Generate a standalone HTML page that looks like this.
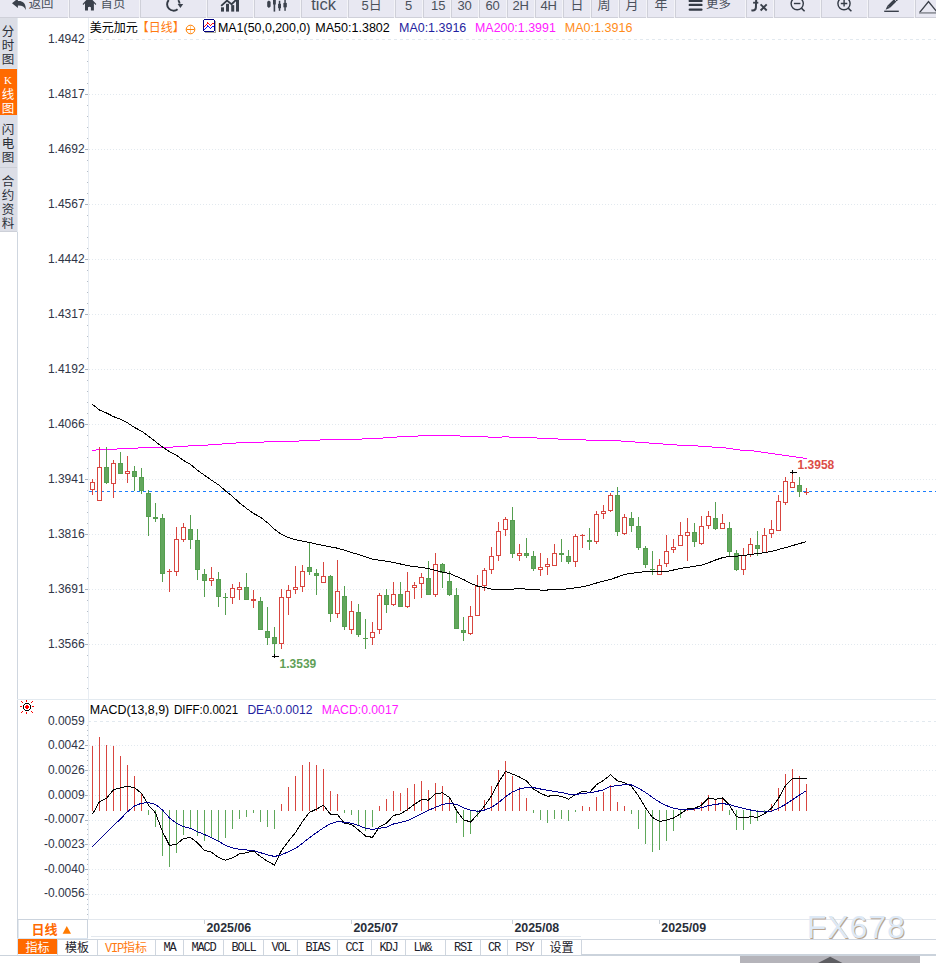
<!DOCTYPE html>
<html><head><meta charset="utf-8"><title>美元加元 日线</title>
<style>
html,body{margin:0;padding:0;background:#fff;}
body{width:936px;height:963px;overflow:hidden;position:relative;}
svg{display:block;position:absolute;left:0;top:0;}
.s{font-family:"Liberation Sans","Noto Sans CJK SC",sans-serif;}
.cj{font-family:"Liberation Sans","Noto Sans CJK SC",sans-serif;}
.mono{font-family:"Liberation Mono","Noto Sans CJK SC",monospace;}
</style></head>
<body>
<svg width="936" height="963" viewBox="0 0 936 963">
<!-- toolbar -->
<rect x="0" y="0" width="936" height="18" fill="#f4f4f8"/>
<rect x="-1" y="0" width="69" height="18" fill="#cfd0d9"/>
<rect x="0" y="0" width="68" height="17" fill="#e8e8f2"/>
<rect x="69" y="0" width="70" height="18" fill="#cfd0d9"/>
<rect x="70" y="0" width="69" height="17" fill="#e8e8f2"/>
<rect x="140" y="0" width="66" height="18" fill="#cfd0d9"/>
<rect x="141" y="0" width="65" height="17" fill="#e8e8f2"/>
<rect x="207" y="0" width="46" height="18" fill="#cfd0d9"/>
<rect x="208" y="0" width="45" height="17" fill="#e8e8f2"/>
<rect x="254" y="0" width="46" height="18" fill="#cfd0d9"/>
<rect x="255" y="0" width="45" height="17" fill="#e8e8f2"/>
<rect x="301" y="0" width="46" height="18" fill="#cfd0d9"/>
<rect x="302" y="0" width="45" height="17" fill="#e8e8f2"/>
<rect x="348" y="0" width="46" height="18" fill="#cfd0d9"/>
<rect x="349" y="0" width="45" height="17" fill="#e8e8f2"/>
<rect x="395" y="0" width="27" height="18" fill="#cfd0d9"/>
<rect x="396" y="0" width="26" height="17" fill="#e8e8f2"/>
<rect x="423" y="0" width="27" height="18" fill="#cfd0d9"/>
<rect x="424" y="0" width="26" height="17" fill="#e8e8f2"/>
<rect x="451" y="0" width="27" height="18" fill="#cfd0d9"/>
<rect x="452" y="0" width="26" height="17" fill="#e8e8f2"/>
<rect x="479" y="0" width="27" height="18" fill="#cfd0d9"/>
<rect x="480" y="0" width="26" height="17" fill="#e8e8f2"/>
<rect x="507" y="0" width="27" height="18" fill="#cfd0d9"/>
<rect x="508" y="0" width="26" height="17" fill="#e8e8f2"/>
<rect x="535" y="0" width="27" height="18" fill="#cfd0d9"/>
<rect x="536" y="0" width="26" height="17" fill="#e8e8f2"/>
<rect x="563" y="0" width="27" height="18" fill="#cfd0d9"/>
<rect x="564" y="0" width="26" height="17" fill="#e8e8f2"/>
<rect x="591" y="0" width="27" height="18" fill="#cfd0d9"/>
<rect x="592" y="0" width="26" height="17" fill="#e8e8f2"/>
<rect x="619" y="0" width="27" height="18" fill="#cfd0d9"/>
<rect x="620" y="0" width="26" height="17" fill="#e8e8f2"/>
<rect x="647" y="0" width="27" height="18" fill="#cfd0d9"/>
<rect x="648" y="0" width="26" height="17" fill="#e8e8f2"/>
<rect x="675" y="0" width="70" height="18" fill="#cfd0d9"/>
<rect x="676" y="0" width="69" height="17" fill="#e8e8f2"/>
<rect x="746" y="0" width="27" height="18" fill="#cfd0d9"/>
<rect x="747" y="0" width="26" height="17" fill="#e8e8f2"/>
<rect x="774" y="0" width="46" height="18" fill="#cfd0d9"/>
<rect x="775" y="0" width="45" height="17" fill="#e8e8f2"/>
<rect x="821" y="0" width="46" height="18" fill="#cfd0d9"/>
<rect x="822" y="0" width="45" height="17" fill="#e8e8f2"/>
<rect x="868" y="0" width="46" height="18" fill="#cfd0d9"/>
<rect x="869" y="0" width="45" height="17" fill="#e8e8f2"/>
<rect x="915" y="0" width="26" height="18" fill="#cfd0d9"/>
<rect x="916" y="0" width="25" height="17" fill="#e8e8f2"/>
<g fill="#3a404b" class="cj" font-size="13">
  <!-- back arrow -->
  <path d="M12 3.3 L17.9 -1.6 L17.9 1.0 C22 0.5 26.3 2.8 25.7 10 C24.6 6.6 22 5.3 17.9 5.5 L17.9 7.9 Z"/>
  <text x="28.7" y="8.4" font-size="12.4" fill="#4a505b">返回</text>
  <!-- house -->
  <path d="M89.4 -3.2 L96.3 3.9 L95.6 4.9 L93.9 3.3 L93.9 10.6 L90.9 10.6 L90.9 7.3 Q89.45 6.3 88 7.3 L88 10.6 L85 10.6 L85 3.3 L83.3 4.9 L82.6 3.9 Z"/>
  <text x="100.6" y="8.4" font-size="12.4" fill="#4a505b">首页</text>
  <!-- refresh -->
  <path d="M168.75 0 A6.4 6.4 0 0 0 177.6 9.2" fill="none" stroke="#333a45" stroke-width="1.9"/>
  <path d="M178.2 0.2 A6.4 6.4 0 0 1 179.6 3.6" fill="none" stroke="#333a45" stroke-width="1.9"/>
  <path d="M177.6 4 L183.2 4 L180.4 7.9 Z"/>
  <!-- bar chart icon -->
  <rect x="221" y="7.3" width="3" height="4.3"/>
  <rect x="226" y="3.8" width="3" height="7.8"/>
  <rect x="231.2" y="5.1" width="3" height="6.5"/>
  <rect x="236" y="-1" width="3" height="12.6"/>
  <path d="M221.2 5.8 L227 0.6 L231.6 4.2 L237.5 -1.5" fill="none" stroke="#333a45" stroke-width="1.8"/>
  <!-- candle icon -->
  <path d="M268.9 0.6 L270.6 1.8 L270.6 6.6 L268.9 7.9 L267.2 6.6 L267.2 1.8 Z"/>
  <rect x="273.6" y="-1" width="1.6" height="12.6"/>
  <rect x="273" y="-1" width="2.8" height="5.5"/>
  <rect x="278.8" y="0.8" width="1.5" height="10"/>
  <rect x="278.1" y="3.8" width="2.9" height="4.4"/>
  <rect x="284.3" y="-1" width="1.5" height="11.8"/>
  <rect x="283.4" y="2.9" width="3.4" height="4.4"/>
  <text x="311.2" y="9.6" font-size="16.5" style="font-family:'Liberation Sans',sans-serif" fill="#4a505b">tick</text>
  <text x="361.5" y="9.6" fill="#4a505b">5<tspan dy="-1">日</tspan></text>
  <text x="405" y="9.6" fill="#4a505b">5</text>
  <text x="431" y="9.6" fill="#4a505b">15</text>
  <text x="457.4" y="9.6" fill="#4a505b">30</text>
  <text x="485.4" y="9.6" fill="#4a505b">60</text>
  <text x="512.4" y="9.6" fill="#4a505b">2H</text>
  <text x="540.4" y="9.6" fill="#4a505b">4H</text>
  <text x="570.5" y="8.6" fill="#4a505b">日</text>
  <text x="597.5" y="8.6" fill="#4a505b">周</text>
  <text x="625.5" y="8.6" fill="#4a505b">月</text>
  <text x="654.5" y="8.6" fill="#4a505b">年</text>
  <!-- hamburger -->
  <path d="M689.8 0.9 H701.4 M689.8 4.9 H701.4 M689.8 9.6 H701.4" stroke="#333a45" stroke-width="2.4" stroke-linecap="round"/>
  <text x="706" y="8.4" font-size="12.4" fill="#4a505b">更多</text>
  <!-- fx -->
  <path d="M756.2 -1 L755.9 7.6 Q755.6 10.6 752.6 10.5 L751.4 10.3" fill="none" stroke="#3a404b" stroke-width="2"/>
  <path d="M753.1 2.7 H758.3" stroke="#3a404b" stroke-width="1.8"/>
  <path d="M760.6 4.3 L766.7 10.5 M766.7 4.3 L760.6 10.5" stroke="#3a404b" stroke-width="1.9"/>
  <!-- zoom out -->
  <circle cx="797.2" cy="3.6" r="6.1" fill="none" stroke="#333a45" stroke-width="1.4"/>
  <path d="M801.4 8.1 L804.6 11.3" stroke="#333a45" stroke-width="1.5"/>
  <path d="M793.9 3.5 H800.4" stroke="#333a45" stroke-width="1.4"/>
  <!-- zoom in -->
  <circle cx="844" cy="3.6" r="6.1" fill="none" stroke="#333a45" stroke-width="1.4"/>
  <path d="M848.2 8.1 L851.4 11.3" stroke="#333a45" stroke-width="1.5"/>
  <path d="M840.8 3.5 H847.3 M844.1 0 V6.6" stroke="#333a45" stroke-width="1.4"/>
  <!-- pencil -->
  <path d="M897.2 -1.6 L888.6 6.9" stroke="#3a404b" stroke-width="3.4" stroke-linecap="butt"/>
  <path d="M889.8 8.1 L887.4 5.7 L885.6 9.7 Z"/>
  <path d="M894.6 -0.4 L896.9 1.9" stroke="#e8e8f2" stroke-width="0.7"/>
  <path d="M884.2 11.3 H898.8" stroke="#3a404b" stroke-width="1.4"/>
  <!-- triangle -->
  <path d="M919.5 12.6 L928.5 1.5 L937.5 12.6" fill="none" stroke="#3a3f48" stroke-width="1.4"/>
  <path d="M919 12.9 H936" stroke="#8c8f97" stroke-width="1.6"/>
</g>

<!-- left sidebar -->
<rect x="0" y="18" width="17" height="214" fill="#dcdee6"/>
<rect x="17" y="18" width="1" height="214" fill="#e6ecf3"/>
<rect x="17" y="232" width="1" height="707" fill="#cfd6df"/>
<rect x="0" y="68" width="17" height="1" fill="#dbe5f1"/>
<rect x="0" y="69" width="17" height="46" fill="#ff6a00"/>
<rect x="0" y="167" width="17" height="1" fill="#cdd0d8"/>
<rect x="0" y="231" width="17" height="1" fill="#cdd0d8"/>
<g class="cj" font-size="12.5" fill="#2a2f38" text-anchor="middle" transform="translate(-0.6 0)">
  <text x="8.5" y="35.5">分</text>
  <text x="8.5" y="49.5">时</text>
  <text x="8.5" y="63.5">图</text>
  <text x="8.5" y="84" fill="#fff" font-size="11" style="font-family:'Liberation Serif',serif">K</text>
  <text x="8.5" y="99" fill="#fff">线</text>
  <text x="8.5" y="113" fill="#fff">图</text>
  <text x="8.5" y="133.5">闪</text>
  <text x="8.5" y="147.5">电</text>
  <text x="8.5" y="161.5">图</text>
  <text x="8.5" y="186">合</text>
  <text x="8.5" y="200">约</text>
  <text x="8.5" y="214">资</text>
  <text x="8.5" y="228">料</text>
</g>

<!-- chart -->
<rect x="88" y="18" width="1" height="901" fill="#e8edf3"/>
<line x1="88" y1="39.5" x2="936" y2="39.5" stroke="#e2e9ef" stroke-width="1" stroke-dasharray="3 3"/>
<line x1="89" y1="94.5" x2="936" y2="94.5" stroke="#e2e9ef" stroke-width="1" stroke-dasharray="1 2"/>
<rect x="85" y="94" width="3" height="1" fill="#a9b2bd"/>
<line x1="89" y1="149.5" x2="936" y2="149.5" stroke="#e2e9ef" stroke-width="1" stroke-dasharray="1 2"/>
<rect x="85" y="149" width="3" height="1" fill="#a9b2bd"/>
<line x1="89" y1="204.5" x2="936" y2="204.5" stroke="#e2e9ef" stroke-width="1" stroke-dasharray="1 2"/>
<rect x="85" y="204" width="3" height="1" fill="#a9b2bd"/>
<line x1="89" y1="259.5" x2="936" y2="259.5" stroke="#e2e9ef" stroke-width="1" stroke-dasharray="1 2"/>
<rect x="85" y="259" width="3" height="1" fill="#a9b2bd"/>
<line x1="89" y1="314.5" x2="936" y2="314.5" stroke="#e2e9ef" stroke-width="1" stroke-dasharray="1 2"/>
<rect x="85" y="314" width="3" height="1" fill="#a9b2bd"/>
<line x1="89" y1="369.5" x2="936" y2="369.5" stroke="#e2e9ef" stroke-width="1" stroke-dasharray="1 2"/>
<rect x="85" y="369" width="3" height="1" fill="#a9b2bd"/>
<line x1="89" y1="424.5" x2="936" y2="424.5" stroke="#e2e9ef" stroke-width="1" stroke-dasharray="1 2"/>
<rect x="85" y="424" width="3" height="1" fill="#a9b2bd"/>
<line x1="89" y1="479.5" x2="936" y2="479.5" stroke="#e2e9ef" stroke-width="1" stroke-dasharray="1 2"/>
<rect x="85" y="479" width="3" height="1" fill="#a9b2bd"/>
<line x1="89" y1="534.5" x2="936" y2="534.5" stroke="#e2e9ef" stroke-width="1" stroke-dasharray="1 2"/>
<rect x="85" y="534" width="3" height="1" fill="#a9b2bd"/>
<line x1="89" y1="589.5" x2="936" y2="589.5" stroke="#e2e9ef" stroke-width="1" stroke-dasharray="1 2"/>
<rect x="85" y="589" width="3" height="1" fill="#a9b2bd"/>
<line x1="89" y1="644.5" x2="936" y2="644.5" stroke="#e2e9ef" stroke-width="1" stroke-dasharray="1 2"/>
<rect x="85" y="644" width="3" height="1" fill="#a9b2bd"/>
<rect x="87" y="50" width="1" height="1" fill="#b5bdc7"/>
<rect x="87" y="61" width="1" height="1" fill="#b5bdc7"/>
<rect x="87" y="72" width="1" height="1" fill="#b5bdc7"/>
<rect x="87" y="83" width="1" height="1" fill="#b5bdc7"/>
<rect x="87" y="105" width="1" height="1" fill="#b5bdc7"/>
<rect x="87" y="116" width="1" height="1" fill="#b5bdc7"/>
<rect x="87" y="127" width="1" height="1" fill="#b5bdc7"/>
<rect x="87" y="138" width="1" height="1" fill="#b5bdc7"/>
<rect x="87" y="160" width="1" height="1" fill="#b5bdc7"/>
<rect x="87" y="171" width="1" height="1" fill="#b5bdc7"/>
<rect x="87" y="182" width="1" height="1" fill="#b5bdc7"/>
<rect x="87" y="193" width="1" height="1" fill="#b5bdc7"/>
<rect x="87" y="215" width="1" height="1" fill="#b5bdc7"/>
<rect x="87" y="226" width="1" height="1" fill="#b5bdc7"/>
<rect x="87" y="237" width="1" height="1" fill="#b5bdc7"/>
<rect x="87" y="248" width="1" height="1" fill="#b5bdc7"/>
<rect x="87" y="270" width="1" height="1" fill="#b5bdc7"/>
<rect x="87" y="281" width="1" height="1" fill="#b5bdc7"/>
<rect x="87" y="292" width="1" height="1" fill="#b5bdc7"/>
<rect x="87" y="303" width="1" height="1" fill="#b5bdc7"/>
<rect x="87" y="325" width="1" height="1" fill="#b5bdc7"/>
<rect x="87" y="336" width="1" height="1" fill="#b5bdc7"/>
<rect x="87" y="347" width="1" height="1" fill="#b5bdc7"/>
<rect x="87" y="358" width="1" height="1" fill="#b5bdc7"/>
<rect x="87" y="380" width="1" height="1" fill="#b5bdc7"/>
<rect x="87" y="391" width="1" height="1" fill="#b5bdc7"/>
<rect x="87" y="402" width="1" height="1" fill="#b5bdc7"/>
<rect x="87" y="413" width="1" height="1" fill="#b5bdc7"/>
<rect x="87" y="435" width="1" height="1" fill="#b5bdc7"/>
<rect x="87" y="446" width="1" height="1" fill="#b5bdc7"/>
<rect x="87" y="457" width="1" height="1" fill="#b5bdc7"/>
<rect x="87" y="468" width="1" height="1" fill="#b5bdc7"/>
<rect x="87" y="490" width="1" height="1" fill="#b5bdc7"/>
<rect x="87" y="501" width="1" height="1" fill="#b5bdc7"/>
<rect x="87" y="512" width="1" height="1" fill="#b5bdc7"/>
<rect x="87" y="523" width="1" height="1" fill="#b5bdc7"/>
<rect x="87" y="545" width="1" height="1" fill="#b5bdc7"/>
<rect x="87" y="556" width="1" height="1" fill="#b5bdc7"/>
<rect x="87" y="567" width="1" height="1" fill="#b5bdc7"/>
<rect x="87" y="578" width="1" height="1" fill="#b5bdc7"/>
<rect x="87" y="600" width="1" height="1" fill="#b5bdc7"/>
<rect x="87" y="611" width="1" height="1" fill="#b5bdc7"/>
<rect x="87" y="622" width="1" height="1" fill="#b5bdc7"/>
<rect x="87" y="633" width="1" height="1" fill="#b5bdc7"/>
<rect x="87" y="655" width="1" height="1" fill="#b5bdc7"/>
<rect x="87" y="666" width="1" height="1" fill="#b5bdc7"/>
<rect x="87" y="677" width="1" height="1" fill="#b5bdc7"/>
<rect x="87" y="688" width="1" height="1" fill="#b5bdc7"/>
<line x1="88" y1="721.5" x2="936" y2="721.5" stroke="#e2e9ef" stroke-width="1" stroke-dasharray="3 3"/>
<line x1="89" y1="745.5" x2="936" y2="745.5" stroke="#e2e9ef" stroke-width="1" stroke-dasharray="1 2"/>
<rect x="85" y="745" width="3" height="1" fill="#a9b2bd"/>
<line x1="89" y1="770.5" x2="936" y2="770.5" stroke="#e2e9ef" stroke-width="1" stroke-dasharray="1 2"/>
<rect x="85" y="770" width="3" height="1" fill="#a9b2bd"/>
<line x1="89" y1="795.5" x2="936" y2="795.5" stroke="#e2e9ef" stroke-width="1" stroke-dasharray="1 2"/>
<rect x="85" y="795" width="3" height="1" fill="#a9b2bd"/>
<line x1="89" y1="820.5" x2="936" y2="820.5" stroke="#e2e9ef" stroke-width="1" stroke-dasharray="1 2"/>
<rect x="85" y="820" width="3" height="1" fill="#a9b2bd"/>
<line x1="89" y1="844.5" x2="936" y2="844.5" stroke="#e2e9ef" stroke-width="1" stroke-dasharray="1 2"/>
<rect x="85" y="844" width="3" height="1" fill="#a9b2bd"/>
<line x1="89" y1="869.5" x2="936" y2="869.5" stroke="#e2e9ef" stroke-width="1" stroke-dasharray="1 2"/>
<rect x="85" y="869" width="3" height="1" fill="#a9b2bd"/>
<line x1="89" y1="894.5" x2="936" y2="894.5" stroke="#e2e9ef" stroke-width="1" stroke-dasharray="1 2"/>
<rect x="85" y="894" width="3" height="1" fill="#a9b2bd"/>
<rect x="87" y="725" width="1" height="1" fill="#b5bdc7"/>
<rect x="87" y="730" width="1" height="1" fill="#b5bdc7"/>
<rect x="87" y="735" width="1" height="1" fill="#b5bdc7"/>
<rect x="87" y="740" width="1" height="1" fill="#b5bdc7"/>
<rect x="87" y="750" width="1" height="1" fill="#b5bdc7"/>
<rect x="87" y="755" width="1" height="1" fill="#b5bdc7"/>
<rect x="87" y="760" width="1" height="1" fill="#b5bdc7"/>
<rect x="87" y="765" width="1" height="1" fill="#b5bdc7"/>
<rect x="87" y="775" width="1" height="1" fill="#b5bdc7"/>
<rect x="87" y="780" width="1" height="1" fill="#b5bdc7"/>
<rect x="87" y="785" width="1" height="1" fill="#b5bdc7"/>
<rect x="87" y="790" width="1" height="1" fill="#b5bdc7"/>
<rect x="87" y="800" width="1" height="1" fill="#b5bdc7"/>
<rect x="87" y="805" width="1" height="1" fill="#b5bdc7"/>
<rect x="87" y="810" width="1" height="1" fill="#b5bdc7"/>
<rect x="87" y="815" width="1" height="1" fill="#b5bdc7"/>
<rect x="87" y="824" width="1" height="1" fill="#b5bdc7"/>
<rect x="87" y="829" width="1" height="1" fill="#b5bdc7"/>
<rect x="87" y="834" width="1" height="1" fill="#b5bdc7"/>
<rect x="87" y="839" width="1" height="1" fill="#b5bdc7"/>
<rect x="87" y="849" width="1" height="1" fill="#b5bdc7"/>
<rect x="87" y="854" width="1" height="1" fill="#b5bdc7"/>
<rect x="87" y="859" width="1" height="1" fill="#b5bdc7"/>
<rect x="87" y="864" width="1" height="1" fill="#b5bdc7"/>
<rect x="87" y="874" width="1" height="1" fill="#b5bdc7"/>
<rect x="87" y="879" width="1" height="1" fill="#b5bdc7"/>
<rect x="87" y="884" width="1" height="1" fill="#b5bdc7"/>
<rect x="87" y="889" width="1" height="1" fill="#b5bdc7"/>
<rect x="87" y="899" width="1" height="1" fill="#b5bdc7"/>
<rect x="87" y="904" width="1" height="1" fill="#b5bdc7"/>
<rect x="87" y="909" width="1" height="1" fill="#b5bdc7"/>
<rect x="87" y="914" width="1" height="1" fill="#b5bdc7"/>
<rect x="92" y="450" width="4" height="1" fill="#ff00ff"/>
<rect x="96" y="449" width="21" height="1" fill="#ff00ff"/>
<rect x="117" y="448" width="21" height="1" fill="#ff00ff"/>
<rect x="138" y="447" width="35" height="1" fill="#ff00ff"/>
<rect x="173" y="446" width="15" height="1" fill="#ff00ff"/>
<rect x="188" y="445" width="20" height="1" fill="#ff00ff"/>
<rect x="208" y="444" width="14" height="1" fill="#ff00ff"/>
<rect x="222" y="443" width="14" height="1" fill="#ff00ff"/>
<rect x="236" y="442" width="28" height="1" fill="#ff00ff"/>
<rect x="264" y="441" width="35" height="1" fill="#ff00ff"/>
<rect x="299" y="440" width="21" height="1" fill="#ff00ff"/>
<rect x="320" y="439" width="42" height="1" fill="#ff00ff"/>
<rect x="362" y="438" width="21" height="1" fill="#ff00ff"/>
<rect x="383" y="437" width="14" height="1" fill="#ff00ff"/>
<rect x="397" y="436" width="21" height="1" fill="#ff00ff"/>
<rect x="418" y="435" width="42" height="1" fill="#ff00ff"/>
<rect x="460" y="436" width="28" height="1" fill="#ff00ff"/>
<rect x="488" y="437" width="14" height="1" fill="#ff00ff"/>
<rect x="502" y="436" width="7" height="1" fill="#ff00ff"/>
<rect x="509" y="437" width="28" height="1" fill="#ff00ff"/>
<rect x="537" y="438" width="21" height="1" fill="#ff00ff"/>
<rect x="558" y="439" width="28" height="1" fill="#ff00ff"/>
<rect x="586" y="440" width="35" height="1" fill="#ff00ff"/>
<rect x="621" y="441" width="14" height="1" fill="#ff00ff"/>
<rect x="635" y="442" width="14" height="1" fill="#ff00ff"/>
<rect x="649" y="443" width="14" height="1" fill="#ff00ff"/>
<rect x="663" y="444" width="14" height="1" fill="#ff00ff"/>
<rect x="677" y="445" width="21" height="1" fill="#ff00ff"/>
<rect x="698" y="446" width="14" height="1" fill="#ff00ff"/>
<rect x="712" y="447" width="14" height="1" fill="#ff00ff"/>
<rect x="726" y="448" width="7" height="1" fill="#ff00ff"/>
<rect x="733" y="449" width="7" height="1" fill="#ff00ff"/>
<rect x="740" y="450" width="14" height="1" fill="#ff00ff"/>
<rect x="754" y="451" width="7" height="1" fill="#ff00ff"/>
<rect x="761" y="452" width="7" height="1" fill="#ff00ff"/>
<rect x="768" y="453" width="7" height="1" fill="#ff00ff"/>
<rect x="775" y="454" width="7" height="1" fill="#ff00ff"/>
<rect x="782" y="455" width="7" height="1" fill="#ff00ff"/>
<rect x="789" y="456" width="7" height="1" fill="#ff00ff"/>
<rect x="796" y="457" width="7" height="1" fill="#ff00ff"/>
<rect x="803" y="458" width="4" height="1" fill="#ff00ff"/>
<line x1="89" y1="491.5" x2="936" y2="491.5" stroke="#1a7dfc" stroke-width="1" stroke-dasharray="3 3"/>
<rect x="92" y="479" width="1" height="3" fill="#d8453f"/>
<rect x="92" y="490" width="1" height="5" fill="#d8453f"/>
<rect x="90.5" y="482.5" width="4" height="7" fill="#fff" stroke="#d8453f" stroke-width="1"/>
<rect x="99" y="447" width="1" height="20" fill="#d8453f"/>
<rect x="97.5" y="467.5" width="4" height="33" fill="#fff" stroke="#d8453f" stroke-width="1"/>
<rect x="106" y="447" width="1" height="37" fill="#559e4f"/>
<rect x="104.5" y="467.5" width="4" height="15" fill="#62a75d" stroke="#559e4f" stroke-width="1"/>
<rect x="113" y="460" width="1" height="3" fill="#d8453f"/>
<rect x="113" y="484" width="1" height="14" fill="#d8453f"/>
<rect x="111.5" y="463.5" width="4" height="20" fill="#fff" stroke="#d8453f" stroke-width="1"/>
<rect x="120" y="452" width="1" height="22" fill="#559e4f"/>
<rect x="118.5" y="463.5" width="4" height="10" fill="#62a75d" stroke="#559e4f" stroke-width="1"/>
<rect x="127" y="456" width="1" height="15" fill="#d8453f"/>
<rect x="127" y="474" width="1" height="9" fill="#d8453f"/>
<rect x="125.5" y="471.5" width="4" height="2" fill="#fff" stroke="#d8453f" stroke-width="1"/>
<rect x="134" y="466" width="1" height="25" fill="#559e4f"/>
<rect x="132.5" y="471.5" width="4" height="5" fill="#62a75d" stroke="#559e4f" stroke-width="1"/>
<rect x="141" y="468" width="1" height="26" fill="#559e4f"/>
<rect x="139.5" y="477.5" width="4" height="13" fill="#62a75d" stroke="#559e4f" stroke-width="1"/>
<rect x="148" y="490" width="1" height="46" fill="#559e4f"/>
<rect x="146.5" y="493.5" width="4" height="23" fill="#62a75d" stroke="#559e4f" stroke-width="1"/>
<rect x="155" y="503" width="1" height="19" fill="#559e4f"/>
<rect x="153" y="517" width="5" height="2" fill="#559e4f"/>
<rect x="162" y="514" width="1" height="68" fill="#559e4f"/>
<rect x="160.5" y="518.5" width="4" height="55" fill="#62a75d" stroke="#559e4f" stroke-width="1"/>
<rect x="169" y="569" width="1" height="23" fill="#d8453f"/>
<rect x="167" y="571" width="5" height="1" fill="#d8453f"/>
<rect x="176" y="527" width="1" height="12" fill="#d8453f"/>
<rect x="176" y="572" width="1" height="4" fill="#d8453f"/>
<rect x="174.5" y="539.5" width="4" height="32" fill="#fff" stroke="#d8453f" stroke-width="1"/>
<rect x="183" y="523" width="1" height="4" fill="#d8453f"/>
<rect x="183" y="540" width="1" height="2" fill="#d8453f"/>
<rect x="181.5" y="527.5" width="4" height="12" fill="#fff" stroke="#d8453f" stroke-width="1"/>
<rect x="190" y="515" width="1" height="34" fill="#559e4f"/>
<rect x="188.5" y="529.5" width="4" height="10" fill="#62a75d" stroke="#559e4f" stroke-width="1"/>
<rect x="197" y="529" width="1" height="51" fill="#559e4f"/>
<rect x="195.5" y="540.5" width="4" height="29" fill="#62a75d" stroke="#559e4f" stroke-width="1"/>
<rect x="204" y="569" width="1" height="28" fill="#559e4f"/>
<rect x="202.5" y="574.5" width="4" height="6" fill="#62a75d" stroke="#559e4f" stroke-width="1"/>
<rect x="211" y="567" width="1" height="11" fill="#d8453f"/>
<rect x="211" y="581" width="1" height="5" fill="#d8453f"/>
<rect x="209.5" y="578.5" width="4" height="2" fill="#fff" stroke="#d8453f" stroke-width="1"/>
<rect x="218" y="572" width="1" height="35" fill="#559e4f"/>
<rect x="216.5" y="579.5" width="4" height="17" fill="#62a75d" stroke="#559e4f" stroke-width="1"/>
<rect x="225" y="593" width="1" height="22" fill="#559e4f"/>
<rect x="223" y="597" width="5" height="1" fill="#559e4f"/>
<rect x="232" y="584" width="1" height="4" fill="#d8453f"/>
<rect x="232" y="598" width="1" height="6" fill="#d8453f"/>
<rect x="230.5" y="588.5" width="4" height="9" fill="#fff" stroke="#d8453f" stroke-width="1"/>
<rect x="239" y="582" width="1" height="5" fill="#d8453f"/>
<rect x="239" y="590" width="1" height="10" fill="#d8453f"/>
<rect x="237.5" y="587.5" width="4" height="2" fill="#fff" stroke="#d8453f" stroke-width="1"/>
<rect x="246" y="573" width="1" height="27" fill="#559e4f"/>
<rect x="244.5" y="587.5" width="4" height="12" fill="#62a75d" stroke="#559e4f" stroke-width="1"/>
<rect x="253" y="590" width="1" height="18" fill="#d8453f"/>
<rect x="251" y="599" width="5" height="2" fill="#d8453f"/>
<rect x="260" y="597" width="1" height="33" fill="#559e4f"/>
<rect x="258.5" y="601.5" width="4" height="28" fill="#62a75d" stroke="#559e4f" stroke-width="1"/>
<rect x="267" y="607" width="1" height="38" fill="#559e4f"/>
<rect x="265.5" y="631.5" width="4" height="6" fill="#62a75d" stroke="#559e4f" stroke-width="1"/>
<rect x="274" y="627" width="1" height="30" fill="#559e4f"/>
<rect x="272.5" y="637.5" width="4" height="6" fill="#62a75d" stroke="#559e4f" stroke-width="1"/>
<rect x="281" y="589" width="1" height="8" fill="#d8453f"/>
<rect x="281" y="644" width="1" height="5" fill="#d8453f"/>
<rect x="279.5" y="597.5" width="4" height="46" fill="#fff" stroke="#d8453f" stroke-width="1"/>
<rect x="288" y="585" width="1" height="5" fill="#d8453f"/>
<rect x="288" y="598" width="1" height="17" fill="#d8453f"/>
<rect x="286.5" y="590.5" width="4" height="7" fill="#fff" stroke="#d8453f" stroke-width="1"/>
<rect x="295" y="566" width="1" height="21" fill="#d8453f"/>
<rect x="295" y="590" width="1" height="4" fill="#d8453f"/>
<rect x="293.5" y="587.5" width="4" height="2" fill="#fff" stroke="#d8453f" stroke-width="1"/>
<rect x="302" y="565" width="1" height="6" fill="#d8453f"/>
<rect x="302" y="587" width="1" height="5" fill="#d8453f"/>
<rect x="300.5" y="571.5" width="4" height="15" fill="#fff" stroke="#d8453f" stroke-width="1"/>
<rect x="309" y="542" width="1" height="33" fill="#559e4f"/>
<rect x="307.5" y="567.5" width="4" height="4" fill="#62a75d" stroke="#559e4f" stroke-width="1"/>
<rect x="316" y="569" width="1" height="26" fill="#559e4f"/>
<rect x="314.5" y="573.5" width="4" height="2" fill="#62a75d" stroke="#559e4f" stroke-width="1"/>
<rect x="323" y="562" width="1" height="14" fill="#d8453f"/>
<rect x="321.5" y="576.5" width="4" height="6" fill="#fff" stroke="#d8453f" stroke-width="1"/>
<rect x="330" y="575" width="1" height="47" fill="#559e4f"/>
<rect x="328.5" y="576.5" width="4" height="37" fill="#62a75d" stroke="#559e4f" stroke-width="1"/>
<rect x="337" y="560" width="1" height="31" fill="#d8453f"/>
<rect x="337" y="614" width="1" height="4" fill="#d8453f"/>
<rect x="335.5" y="591.5" width="4" height="22" fill="#fff" stroke="#d8453f" stroke-width="1"/>
<rect x="344" y="586" width="1" height="44" fill="#559e4f"/>
<rect x="342.5" y="596.5" width="4" height="30" fill="#62a75d" stroke="#559e4f" stroke-width="1"/>
<rect x="351" y="601" width="1" height="10" fill="#d8453f"/>
<rect x="351" y="630" width="1" height="4" fill="#d8453f"/>
<rect x="349.5" y="611.5" width="4" height="18" fill="#fff" stroke="#d8453f" stroke-width="1"/>
<rect x="358" y="604" width="1" height="33" fill="#559e4f"/>
<rect x="356.5" y="612.5" width="4" height="22" fill="#62a75d" stroke="#559e4f" stroke-width="1"/>
<rect x="365" y="619" width="1" height="30" fill="#559e4f"/>
<rect x="363" y="638" width="5" height="1" fill="#559e4f"/>
<rect x="372" y="622" width="1" height="10" fill="#d8453f"/>
<rect x="372" y="638" width="1" height="7" fill="#d8453f"/>
<rect x="370.5" y="632.5" width="4" height="5" fill="#fff" stroke="#d8453f" stroke-width="1"/>
<rect x="379" y="593" width="1" height="2" fill="#d8453f"/>
<rect x="379" y="630" width="1" height="4" fill="#d8453f"/>
<rect x="377.5" y="595.5" width="4" height="34" fill="#fff" stroke="#d8453f" stroke-width="1"/>
<rect x="386" y="589" width="1" height="24" fill="#559e4f"/>
<rect x="384.5" y="595.5" width="4" height="9" fill="#62a75d" stroke="#559e4f" stroke-width="1"/>
<rect x="393" y="582" width="1" height="12" fill="#d8453f"/>
<rect x="393" y="605" width="1" height="1" fill="#d8453f"/>
<rect x="391.5" y="594.5" width="4" height="10" fill="#fff" stroke="#d8453f" stroke-width="1"/>
<rect x="400" y="582" width="1" height="25" fill="#559e4f"/>
<rect x="398.5" y="594.5" width="4" height="12" fill="#62a75d" stroke="#559e4f" stroke-width="1"/>
<rect x="407" y="572" width="1" height="19" fill="#d8453f"/>
<rect x="407" y="607" width="1" height="1" fill="#d8453f"/>
<rect x="405.5" y="591.5" width="4" height="15" fill="#fff" stroke="#d8453f" stroke-width="1"/>
<rect x="414" y="582" width="1" height="3" fill="#d8453f"/>
<rect x="414" y="588" width="1" height="11" fill="#d8453f"/>
<rect x="412.5" y="585.5" width="4" height="2" fill="#fff" stroke="#d8453f" stroke-width="1"/>
<rect x="421" y="573" width="1" height="4" fill="#d8453f"/>
<rect x="421" y="584" width="1" height="14" fill="#d8453f"/>
<rect x="419.5" y="577.5" width="4" height="6" fill="#fff" stroke="#d8453f" stroke-width="1"/>
<rect x="428" y="561" width="1" height="34" fill="#559e4f"/>
<rect x="426.5" y="578.5" width="4" height="16" fill="#62a75d" stroke="#559e4f" stroke-width="1"/>
<rect x="435" y="553" width="1" height="11" fill="#d8453f"/>
<rect x="435" y="595" width="1" height="2" fill="#d8453f"/>
<rect x="433.5" y="564.5" width="4" height="30" fill="#fff" stroke="#d8453f" stroke-width="1"/>
<rect x="442" y="563" width="1" height="25" fill="#559e4f"/>
<rect x="440.5" y="564.5" width="4" height="8" fill="#62a75d" stroke="#559e4f" stroke-width="1"/>
<rect x="449" y="571" width="1" height="25" fill="#559e4f"/>
<rect x="447.5" y="581.5" width="4" height="13" fill="#62a75d" stroke="#559e4f" stroke-width="1"/>
<rect x="456" y="588" width="1" height="41" fill="#559e4f"/>
<rect x="454.5" y="595.5" width="4" height="33" fill="#62a75d" stroke="#559e4f" stroke-width="1"/>
<rect x="463" y="617" width="1" height="24" fill="#559e4f"/>
<rect x="461.5" y="630.5" width="4" height="2" fill="#62a75d" stroke="#559e4f" stroke-width="1"/>
<rect x="470" y="606" width="1" height="10" fill="#d8453f"/>
<rect x="470" y="634" width="1" height="1" fill="#d8453f"/>
<rect x="468.5" y="616.5" width="4" height="17" fill="#fff" stroke="#d8453f" stroke-width="1"/>
<rect x="477" y="575" width="1" height="11" fill="#d8453f"/>
<rect x="475.5" y="586.5" width="4" height="29" fill="#fff" stroke="#d8453f" stroke-width="1"/>
<rect x="484" y="568" width="1" height="2" fill="#d8453f"/>
<rect x="484" y="586" width="1" height="5" fill="#d8453f"/>
<rect x="482.5" y="570.5" width="4" height="15" fill="#fff" stroke="#d8453f" stroke-width="1"/>
<rect x="491" y="547" width="1" height="9" fill="#d8453f"/>
<rect x="491" y="570" width="1" height="4" fill="#d8453f"/>
<rect x="489.5" y="556.5" width="4" height="13" fill="#fff" stroke="#d8453f" stroke-width="1"/>
<rect x="498" y="522" width="1" height="9" fill="#d8453f"/>
<rect x="498" y="556" width="1" height="5" fill="#d8453f"/>
<rect x="496.5" y="531.5" width="4" height="24" fill="#fff" stroke="#d8453f" stroke-width="1"/>
<rect x="505" y="517" width="1" height="2" fill="#d8453f"/>
<rect x="505" y="530" width="1" height="6" fill="#d8453f"/>
<rect x="503.5" y="519.5" width="4" height="10" fill="#fff" stroke="#d8453f" stroke-width="1"/>
<rect x="512" y="507" width="1" height="51" fill="#559e4f"/>
<rect x="510.5" y="520.5" width="4" height="33" fill="#62a75d" stroke="#559e4f" stroke-width="1"/>
<rect x="519" y="544" width="1" height="9" fill="#d8453f"/>
<rect x="519" y="556" width="1" height="5" fill="#d8453f"/>
<rect x="517.5" y="553.5" width="4" height="2" fill="#fff" stroke="#d8453f" stroke-width="1"/>
<rect x="526" y="538" width="1" height="20" fill="#559e4f"/>
<rect x="524.5" y="553.5" width="4" height="2" fill="#62a75d" stroke="#559e4f" stroke-width="1"/>
<rect x="533" y="551" width="1" height="20" fill="#559e4f"/>
<rect x="531.5" y="556.5" width="4" height="12" fill="#62a75d" stroke="#559e4f" stroke-width="1"/>
<rect x="540" y="553" width="1" height="14" fill="#d8453f"/>
<rect x="540" y="570" width="1" height="6" fill="#d8453f"/>
<rect x="538.5" y="567.5" width="4" height="2" fill="#fff" stroke="#d8453f" stroke-width="1"/>
<rect x="547" y="558" width="1" height="6" fill="#d8453f"/>
<rect x="547" y="567" width="1" height="8" fill="#d8453f"/>
<rect x="545.5" y="564.5" width="4" height="2" fill="#fff" stroke="#d8453f" stroke-width="1"/>
<rect x="554" y="544" width="1" height="9" fill="#d8453f"/>
<rect x="552.5" y="553.5" width="4" height="12" fill="#fff" stroke="#d8453f" stroke-width="1"/>
<rect x="561" y="539" width="1" height="23" fill="#559e4f"/>
<rect x="559" y="553" width="5" height="2" fill="#559e4f"/>
<rect x="568" y="550" width="1" height="14" fill="#559e4f"/>
<rect x="566.5" y="556.5" width="4" height="5" fill="#62a75d" stroke="#559e4f" stroke-width="1"/>
<rect x="575" y="534" width="1" height="2" fill="#d8453f"/>
<rect x="575" y="562" width="1" height="5" fill="#d8453f"/>
<rect x="573.5" y="536.5" width="4" height="25" fill="#fff" stroke="#d8453f" stroke-width="1"/>
<rect x="582" y="534" width="1" height="14" fill="#d8453f"/>
<rect x="580" y="535" width="5" height="1" fill="#d8453f"/>
<rect x="589" y="528" width="1" height="22" fill="#559e4f"/>
<rect x="587" y="540" width="5" height="2" fill="#559e4f"/>
<rect x="596" y="511" width="1" height="3" fill="#d8453f"/>
<rect x="596" y="542" width="1" height="2" fill="#d8453f"/>
<rect x="594.5" y="514.5" width="4" height="27" fill="#fff" stroke="#d8453f" stroke-width="1"/>
<rect x="603" y="505" width="1" height="6" fill="#d8453f"/>
<rect x="603" y="514" width="1" height="5" fill="#d8453f"/>
<rect x="601.5" y="511.5" width="4" height="2" fill="#fff" stroke="#d8453f" stroke-width="1"/>
<rect x="610" y="493" width="1" height="2" fill="#d8453f"/>
<rect x="610" y="511" width="1" height="1" fill="#d8453f"/>
<rect x="608.5" y="495.5" width="4" height="15" fill="#fff" stroke="#d8453f" stroke-width="1"/>
<rect x="617" y="487" width="1" height="49" fill="#559e4f"/>
<rect x="615.5" y="495.5" width="4" height="36" fill="#62a75d" stroke="#559e4f" stroke-width="1"/>
<rect x="624" y="514" width="1" height="3" fill="#d8453f"/>
<rect x="624" y="534" width="1" height="1" fill="#d8453f"/>
<rect x="622.5" y="517.5" width="4" height="16" fill="#fff" stroke="#d8453f" stroke-width="1"/>
<rect x="631" y="512" width="1" height="20" fill="#559e4f"/>
<rect x="629.5" y="518.5" width="4" height="7" fill="#62a75d" stroke="#559e4f" stroke-width="1"/>
<rect x="638" y="517" width="1" height="33" fill="#559e4f"/>
<rect x="636.5" y="526.5" width="4" height="21" fill="#62a75d" stroke="#559e4f" stroke-width="1"/>
<rect x="645" y="546" width="1" height="22" fill="#559e4f"/>
<rect x="643.5" y="548.5" width="4" height="16" fill="#62a75d" stroke="#559e4f" stroke-width="1"/>
<rect x="652" y="551" width="1" height="24" fill="#559e4f"/>
<rect x="650" y="569" width="5" height="1" fill="#559e4f"/>
<rect x="659" y="559" width="1" height="6" fill="#d8453f"/>
<rect x="657.5" y="565.5" width="4" height="9" fill="#fff" stroke="#d8453f" stroke-width="1"/>
<rect x="666" y="535" width="1" height="16" fill="#d8453f"/>
<rect x="666" y="564" width="1" height="3" fill="#d8453f"/>
<rect x="664.5" y="551.5" width="4" height="12" fill="#fff" stroke="#d8453f" stroke-width="1"/>
<rect x="673" y="539" width="1" height="8" fill="#d8453f"/>
<rect x="673" y="550" width="1" height="3" fill="#d8453f"/>
<rect x="671.5" y="547.5" width="4" height="2" fill="#fff" stroke="#d8453f" stroke-width="1"/>
<rect x="680" y="522" width="1" height="13" fill="#d8453f"/>
<rect x="678.5" y="535.5" width="4" height="10" fill="#fff" stroke="#d8453f" stroke-width="1"/>
<rect x="687" y="518" width="1" height="14" fill="#d8453f"/>
<rect x="687" y="536" width="1" height="25" fill="#d8453f"/>
<rect x="685.5" y="532.5" width="4" height="3" fill="#fff" stroke="#d8453f" stroke-width="1"/>
<rect x="694" y="523" width="1" height="24" fill="#559e4f"/>
<rect x="692.5" y="532.5" width="4" height="9" fill="#62a75d" stroke="#559e4f" stroke-width="1"/>
<rect x="701" y="516" width="1" height="10" fill="#d8453f"/>
<rect x="701" y="544" width="1" height="1" fill="#d8453f"/>
<rect x="699.5" y="526.5" width="4" height="17" fill="#fff" stroke="#d8453f" stroke-width="1"/>
<rect x="708" y="511" width="1" height="5" fill="#d8453f"/>
<rect x="708" y="526" width="1" height="3" fill="#d8453f"/>
<rect x="706.5" y="516.5" width="4" height="9" fill="#fff" stroke="#d8453f" stroke-width="1"/>
<rect x="715" y="502" width="1" height="28" fill="#559e4f"/>
<rect x="713.5" y="518.5" width="4" height="10" fill="#62a75d" stroke="#559e4f" stroke-width="1"/>
<rect x="722" y="514" width="1" height="9" fill="#d8453f"/>
<rect x="720.5" y="523.5" width="4" height="5" fill="#fff" stroke="#d8453f" stroke-width="1"/>
<rect x="729" y="522" width="1" height="34" fill="#559e4f"/>
<rect x="727.5" y="528.5" width="4" height="23" fill="#62a75d" stroke="#559e4f" stroke-width="1"/>
<rect x="736" y="550" width="1" height="21" fill="#559e4f"/>
<rect x="734.5" y="553.5" width="4" height="16" fill="#62a75d" stroke="#559e4f" stroke-width="1"/>
<rect x="743" y="548" width="1" height="7" fill="#d8453f"/>
<rect x="743" y="570" width="1" height="5" fill="#d8453f"/>
<rect x="741.5" y="555.5" width="4" height="14" fill="#fff" stroke="#d8453f" stroke-width="1"/>
<rect x="750" y="538" width="1" height="6" fill="#d8453f"/>
<rect x="750" y="555" width="1" height="2" fill="#d8453f"/>
<rect x="748.5" y="544.5" width="4" height="10" fill="#fff" stroke="#d8453f" stroke-width="1"/>
<rect x="757" y="531" width="1" height="25" fill="#559e4f"/>
<rect x="755.5" y="545.5" width="4" height="3" fill="#62a75d" stroke="#559e4f" stroke-width="1"/>
<rect x="764" y="528" width="1" height="7" fill="#d8453f"/>
<rect x="762.5" y="535.5" width="4" height="17" fill="#fff" stroke="#d8453f" stroke-width="1"/>
<rect x="771" y="520" width="1" height="9" fill="#d8453f"/>
<rect x="771" y="534" width="1" height="4" fill="#d8453f"/>
<rect x="769.5" y="529.5" width="4" height="4" fill="#fff" stroke="#d8453f" stroke-width="1"/>
<rect x="778" y="495" width="1" height="6" fill="#d8453f"/>
<rect x="776.5" y="501.5" width="4" height="29" fill="#fff" stroke="#d8453f" stroke-width="1"/>
<rect x="785" y="477" width="1" height="4" fill="#d8453f"/>
<rect x="785" y="503" width="1" height="2" fill="#d8453f"/>
<rect x="783.5" y="481.5" width="4" height="21" fill="#fff" stroke="#d8453f" stroke-width="1"/>
<rect x="792" y="472" width="1" height="10" fill="#d8453f"/>
<rect x="790.5" y="482.5" width="4" height="5" fill="#fff" stroke="#d8453f" stroke-width="1"/>
<rect x="799" y="477" width="1" height="20" fill="#559e4f"/>
<rect x="797.5" y="485.5" width="4" height="6" fill="#62a75d" stroke="#559e4f" stroke-width="1"/>
<rect x="806" y="488" width="1" height="7" fill="#d8453f"/>
<rect x="804" y="492" width="5" height="1" fill="#d8453f"/>
<polyline points="92.5,404.4 99.5,410 106.5,413 113.5,416.6 120.5,419.3 127.5,422.8 134.5,427.5 141.5,431.1 148.5,436.3 155.5,441.6 162.5,447 169.5,451.6 176.5,455.2 183.5,460.5 190.5,464.4 197.5,470.3 204.5,475.3 211.5,480.2 218.5,484.8 225.5,490.9 232.5,496.4 239.5,502.9 246.5,508.4 253.5,513.5 260.5,517.1 267.5,522.8 274.5,529.2 281.5,534.5 288.5,537.6 295.5,539.6 302.5,541.2 309.5,542.5 316.5,544.1 323.5,545.5 330.5,546.9 337.5,548.2 344.5,550.2 351.5,552.5 358.5,554.4 365.5,556.7 372.5,559.2 379.5,560.2 386.5,561.2 393.5,562.5 400.5,564 407.5,565.7 414.5,566.7 421.5,567.4 428.5,568.5 435.5,570.4 442.5,572.2 449.5,573.5 456.5,576.5 463.5,579.5 470.5,583.3 477.5,586 484.5,587.5 491.5,589.1 498.5,589.1 505.5,589.1 512.5,589.1 519.5,588.5 526.5,589.2 533.5,589.8 540.5,590 547.5,590 554.5,589.6 561.5,589.4 568.5,588.8 575.5,587.8 582.5,586.8 589.5,585.1 596.5,583 603.5,581.2 610.5,579.4 617.5,577 624.5,574.3 631.5,573.3 638.5,572.5 645.5,571.6 652.5,571.6 659.5,571.6 666.5,571.6 673.5,570 680.5,568.4 687.5,567.3 694.5,566.3 701.5,565.1 708.5,562.8 715.5,560 722.5,557.7 729.5,556.2 736.5,556.1 743.5,555.5 750.5,554.6 757.5,553.5 764.5,552.7 771.5,551.4 778.5,549.5 785.5,547.7 792.5,545.6 799.5,543.6 806.5,541.6" fill="none" stroke="#000" stroke-width="1" shape-rendering="crispEdges"/>
<rect x="272" y="656" width="7" height="1" fill="#000"/>
<rect x="274" y="654" width="1" height="4" fill="#000"/>
<rect x="790" y="472" width="7" height="1" fill="#000"/>
<rect x="792" y="470" width="1" height="4" fill="#000"/>
<rect x="92" y="746" width="1" height="65" fill="#d8453f"/>
<rect x="99" y="737" width="1" height="74" fill="#d8453f"/>
<rect x="106" y="745" width="1" height="66" fill="#d8453f"/>
<rect x="113" y="746" width="1" height="65" fill="#d8453f"/>
<rect x="120" y="756" width="1" height="55" fill="#d8453f"/>
<rect x="127" y="765" width="1" height="46" fill="#d8453f"/>
<rect x="134" y="776" width="1" height="35" fill="#d8453f"/>
<rect x="141" y="793" width="1" height="18" fill="#d8453f"/>
<rect x="148" y="810" width="1" height="5" fill="#5fa85a"/>
<rect x="155" y="810" width="1" height="17" fill="#5fa85a"/>
<rect x="162" y="810" width="1" height="46" fill="#5fa85a"/>
<rect x="169" y="810" width="1" height="57" fill="#5fa85a"/>
<rect x="176" y="810" width="1" height="43" fill="#5fa85a"/>
<rect x="183" y="810" width="1" height="25" fill="#5fa85a"/>
<rect x="190" y="810" width="1" height="18" fill="#5fa85a"/>
<rect x="197" y="810" width="1" height="26" fill="#5fa85a"/>
<rect x="204" y="810" width="1" height="31" fill="#5fa85a"/>
<rect x="211" y="810" width="1" height="28" fill="#5fa85a"/>
<rect x="218" y="810" width="1" height="31" fill="#5fa85a"/>
<rect x="225" y="810" width="1" height="28" fill="#5fa85a"/>
<rect x="232" y="810" width="1" height="19" fill="#5fa85a"/>
<rect x="239" y="810" width="1" height="9" fill="#5fa85a"/>
<rect x="246" y="810" width="1" height="7" fill="#5fa85a"/>
<rect x="253" y="810" width="1" height="3" fill="#5fa85a"/>
<rect x="260" y="810" width="1" height="12" fill="#5fa85a"/>
<rect x="267" y="810" width="1" height="17" fill="#5fa85a"/>
<rect x="274" y="810" width="1" height="19" fill="#5fa85a"/>
<rect x="281" y="804" width="1" height="7" fill="#d8453f"/>
<rect x="288" y="787" width="1" height="24" fill="#d8453f"/>
<rect x="295" y="776" width="1" height="35" fill="#d8453f"/>
<rect x="302" y="765" width="1" height="46" fill="#d8453f"/>
<rect x="309" y="762" width="1" height="49" fill="#d8453f"/>
<rect x="316" y="765" width="1" height="46" fill="#d8453f"/>
<rect x="323" y="769" width="1" height="42" fill="#d8453f"/>
<rect x="330" y="791" width="1" height="20" fill="#d8453f"/>
<rect x="337" y="794" width="1" height="17" fill="#d8453f"/>
<rect x="344" y="810" width="1" height="3" fill="#5fa85a"/>
<rect x="351" y="810" width="1" height="5" fill="#5fa85a"/>
<rect x="358" y="810" width="1" height="15" fill="#5fa85a"/>
<rect x="365" y="810" width="1" height="21" fill="#5fa85a"/>
<rect x="372" y="810" width="1" height="17" fill="#5fa85a"/>
<rect x="379" y="806" width="1" height="5" fill="#d8453f"/>
<rect x="386" y="799" width="1" height="12" fill="#d8453f"/>
<rect x="393" y="791" width="1" height="20" fill="#d8453f"/>
<rect x="400" y="793" width="1" height="18" fill="#d8453f"/>
<rect x="407" y="788" width="1" height="23" fill="#d8453f"/>
<rect x="414" y="784" width="1" height="27" fill="#d8453f"/>
<rect x="421" y="781" width="1" height="30" fill="#d8453f"/>
<rect x="428" y="790" width="1" height="21" fill="#d8453f"/>
<rect x="435" y="783" width="1" height="28" fill="#d8453f"/>
<rect x="442" y="786" width="1" height="25" fill="#d8453f"/>
<rect x="449" y="799" width="1" height="12" fill="#d8453f"/>
<rect x="456" y="810" width="1" height="13" fill="#5fa85a"/>
<rect x="463" y="810" width="1" height="27" fill="#5fa85a"/>
<rect x="470" y="810" width="1" height="24" fill="#5fa85a"/>
<rect x="477" y="810" width="1" height="7" fill="#5fa85a"/>
<rect x="484" y="800" width="1" height="11" fill="#d8453f"/>
<rect x="491" y="786" width="1" height="25" fill="#d8453f"/>
<rect x="498" y="770" width="1" height="41" fill="#d8453f"/>
<rect x="505" y="761" width="1" height="50" fill="#d8453f"/>
<rect x="512" y="776" width="1" height="35" fill="#d8453f"/>
<rect x="519" y="787" width="1" height="24" fill="#d8453f"/>
<rect x="526" y="798" width="1" height="13" fill="#d8453f"/>
<rect x="533" y="810" width="1" height="3" fill="#5fa85a"/>
<rect x="540" y="810" width="1" height="10" fill="#5fa85a"/>
<rect x="547" y="810" width="1" height="13" fill="#5fa85a"/>
<rect x="554" y="810" width="1" height="9" fill="#5fa85a"/>
<rect x="561" y="810" width="1" height="9" fill="#5fa85a"/>
<rect x="568" y="810" width="1" height="11" fill="#5fa85a"/>
<rect x="575" y="810" width="1" height="2" fill="#5fa85a"/>
<rect x="582" y="806" width="1" height="5" fill="#d8453f"/>
<rect x="589" y="807" width="1" height="4" fill="#d8453f"/>
<rect x="596" y="797" width="1" height="14" fill="#d8453f"/>
<rect x="603" y="792" width="1" height="19" fill="#d8453f"/>
<rect x="610" y="785" width="1" height="26" fill="#d8453f"/>
<rect x="617" y="802" width="1" height="9" fill="#d8453f"/>
<rect x="624" y="806" width="1" height="5" fill="#d8453f"/>
<rect x="631" y="810" width="1" height="4" fill="#5fa85a"/>
<rect x="638" y="810" width="1" height="19" fill="#5fa85a"/>
<rect x="645" y="810" width="1" height="34" fill="#5fa85a"/>
<rect x="652" y="810" width="1" height="42" fill="#5fa85a"/>
<rect x="659" y="810" width="1" height="40" fill="#5fa85a"/>
<rect x="666" y="810" width="1" height="31" fill="#5fa85a"/>
<rect x="673" y="810" width="1" height="21" fill="#5fa85a"/>
<rect x="680" y="810" width="1" height="8" fill="#5fa85a"/>
<rect x="687" y="809" width="1" height="2" fill="#d8453f"/>
<rect x="694" y="809" width="1" height="2" fill="#d8453f"/>
<rect x="701" y="802" width="1" height="9" fill="#d8453f"/>
<rect x="708" y="795" width="1" height="16" fill="#d8453f"/>
<rect x="715" y="799" width="1" height="12" fill="#d8453f"/>
<rect x="722" y="799" width="1" height="12" fill="#d8453f"/>
<rect x="729" y="810" width="1" height="5" fill="#5fa85a"/>
<rect x="736" y="810" width="1" height="20" fill="#5fa85a"/>
<rect x="743" y="810" width="1" height="20" fill="#5fa85a"/>
<rect x="750" y="810" width="1" height="14" fill="#5fa85a"/>
<rect x="757" y="810" width="1" height="11" fill="#5fa85a"/>
<rect x="764" y="810" width="1" height="4" fill="#5fa85a"/>
<rect x="771" y="804" width="1" height="7" fill="#d8453f"/>
<rect x="778" y="788" width="1" height="23" fill="#d8453f"/>
<rect x="785" y="774" width="1" height="37" fill="#d8453f"/>
<rect x="792" y="769" width="1" height="42" fill="#d8453f"/>
<rect x="799" y="776" width="1" height="35" fill="#d8453f"/>
<rect x="806" y="784" width="1" height="27" fill="#d8453f"/>
<polyline points="92.5,814.3 99.5,801.5 106.5,798.4 113.5,789.8 120.5,787.8 127.5,786.4 134.5,787.8 141.5,793.2 148.5,805.2 155.5,812.9 162.5,831.7 169.5,845.4 176.5,844.2 183.5,838.5 190.5,837.4 197.5,842.8 204.5,850.5 211.5,852.2 218.5,857.4 225.5,860.3 232.5,857.9 239.5,853.9 246.5,852.7 253.5,851 260.5,856.5 267.5,861.3 274.5,865 281.5,850.5 288.5,841.1 295.5,832.6 302.5,821.5 309.5,812.4 316.5,809.1 323.5,805.2 330.5,814.3 337.5,814.6 344.5,823.2 351.5,824.4 358.5,830 365.5,836 372.5,837.4 379.5,826.6 386.5,823.2 393.5,815.5 400.5,813.8 407.5,809.5 414.5,804.4 421.5,799.7 428.5,800.1 435.5,793.6 442.5,792.9 449.5,797.5 456.5,810.3 463.5,819.7 470.5,822 477.5,814.6 484.5,806 491.5,795.8 498.5,782.6 505.5,771.4 512.5,774.1 519.5,777 526.5,780.9 533.5,789 540.5,793.2 547.5,796.3 554.5,795.3 561.5,796.3 568.5,799.2 575.5,794.6 582.5,791.2 589.5,792.4 596.5,784.7 603.5,780.4 610.5,774.8 617.5,780.9 624.5,782.6 631.5,786.4 638.5,795.8 645.5,807.8 652.5,817.5 659.5,821.5 666.5,820.3 673.5,818 680.5,813.8 687.5,809 694.5,808.3 701.5,805.2 708.5,798 715.5,799.2 722.5,798 729.5,805.2 736.5,816.8 743.5,818 750.5,816.8 757.5,817.2 764.5,813.8 771.5,808.3 778.5,798.4 785.5,785.6 792.5,778.4 799.5,778.4 806.5,778.4" fill="none" stroke="#000" stroke-width="1" shape-rendering="crispEdges"/>
<polyline points="92.5,846.8 99.5,839.4 106.5,832.6 113.5,825.7 120.5,818.9 127.5,811.7 134.5,806 141.5,803.2 148.5,802.6 155.5,804.4 162.5,810 169.5,818 176.5,823.2 183.5,826.6 190.5,828.3 197.5,831.7 204.5,834.6 211.5,837.7 218.5,841.1 225.5,845.4 232.5,848 239.5,849.3 246.5,850 253.5,850.5 260.5,852.7 267.5,854.8 274.5,856.5 281.5,854.8 288.5,851.7 295.5,848.5 302.5,843.2 309.5,837.7 316.5,832.6 323.5,827.8 330.5,823.7 337.5,821.5 344.5,822.3 351.5,823.2 358.5,825.4 365.5,828.3 372.5,829.5 379.5,828.3 386.5,827.1 393.5,824 400.5,822.3 407.5,820.6 414.5,817.2 421.5,813.8 428.5,810.3 435.5,807.3 442.5,804.4 449.5,803.2 456.5,804.4 463.5,807.8 470.5,810.3 477.5,811.2 484.5,810 491.5,807.3 498.5,802.6 505.5,796.7 512.5,791.9 519.5,789 526.5,787.3 533.5,787.6 540.5,789 547.5,790.3 554.5,791.5 561.5,792.4 568.5,794.1 575.5,794.6 582.5,793.2 589.5,792.9 596.5,791.5 603.5,789.8 610.5,786.4 617.5,785.6 624.5,784.7 631.5,785 638.5,788.1 645.5,792.4 652.5,797.5 659.5,802.1 666.5,805.6 673.5,808.3 680.5,809.5 687.5,809.5 694.5,809 701.5,807.8 708.5,805.6 715.5,804.4 722.5,803.5 729.5,804.7 736.5,806.6 743.5,808.3 750.5,810 757.5,811.2 764.5,812.1 771.5,811.2 778.5,808.3 785.5,804.4 792.5,799.7 799.5,795 806.5,790.7" fill="none" stroke="#00008e" stroke-width="1" shape-rendering="crispEdges"/>
<rect x="17" y="699" width="919" height="1" fill="#e3eaf0"/>
<rect x="88" y="919" width="848" height="1" fill="#e3e8ee"/>
<rect x="91" y="936" width="490" height="1" fill="#e3e8ee"/>
<rect x="204" y="920" width="1" height="4" fill="#c9d0d8"/>
<rect x="351" y="920" width="1" height="4" fill="#c9d0d8"/>
<rect x="512" y="920" width="1" height="4" fill="#c9d0d8"/>
<rect x="659" y="920" width="1" height="4" fill="#c9d0d8"/>

<!-- price axis labels -->
<g class="s" font-size="12" fill="#2f3547" text-anchor="end">
  <text x="84.6" y="42.5">1.4942</text>
  <text x="84.6" y="97.5">1.4817</text>
  <text x="84.6" y="152.5">1.4692</text>
  <text x="84.6" y="207.5">1.4567</text>
  <text x="84.6" y="262.5">1.4442</text>
  <text x="84.6" y="317.5">1.4317</text>
  <text x="84.6" y="372.5">1.4192</text>
  <text x="84.6" y="427.5">1.4066</text>
  <text x="84.6" y="482.5">1.3941</text>
  <text x="84.6" y="537.5">1.3816</text>
  <text x="84.6" y="592.5">1.3691</text>
  <text x="84.6" y="647.5">1.3566</text>
  <text x="84.6" y="724.5">0.0059</text>
  <text x="84.6" y="749.2">0.0042</text>
  <text x="84.6" y="773.9">0.0026</text>
  <text x="84.6" y="798.6">0.0009</text>
  <text x="84.6" y="823.3">-0.0007</text>
  <text x="84.6" y="848">-0.0023</text>
  <text x="84.6" y="872.7">-0.0040</text>
  <text x="84.6" y="897.4">-0.0056</text>
</g>

<!-- legend row main -->
<g class="cj" font-size="12.4">
  <text x="89.8" y="32" fill="#000" font-size="12">美元加元</text>
  <text x="136.8" y="32" fill="#ff7a10" font-size="12">【日线】</text>
  <g fill="none" stroke="#ff8000" stroke-width="1">
    <circle cx="190.5" cy="29.5" r="4.3"/>
    <path d="M186.5 29.5 H194.5"/>
    <path d="M190.5 25.5 V33.5" stroke-opacity="0.45"/>
  </g>
  <g>
  <rect x="204" y="19" width="10" height="1" fill="#000080"/>
  <rect x="204" y="31" width="10" height="1" fill="#000080"/>
  <rect x="203" y="20" width="1" height="11" fill="#000080"/>
  <rect x="214" y="20" width="1" height="11" fill="#000080"/>
  <rect x="215" y="21" width="1" height="11" fill="#aaa99a"/>
  <rect x="205" y="32" width="11" height="1" fill="#aaa99a"/>
  <rect x="204" y="26" width="1" height="1" fill="#ff1010"/><rect x="205" y="25" width="1" height="1" fill="#ff1010"/><rect x="206" y="24" width="1" height="1" fill="#ff1010"/><rect x="207" y="22" width="1" height="1" fill="#ff1010"/><rect x="207" y="23" width="1" height="1" fill="#ff1010"/><rect x="208" y="23" width="1" height="1" fill="#ff1010"/><rect x="209" y="24" width="1" height="1" fill="#ff1010"/><rect x="210" y="25" width="1" height="1" fill="#ff1010"/><rect x="211" y="24" width="1" height="1" fill="#ff1010"/><rect x="212" y="23" width="1" height="1" fill="#ff1010"/><rect x="213" y="23" width="1" height="1" fill="#ff1010"/><rect x="204" y="29" width="1" height="1" fill="#1010ff"/><rect x="205" y="28" width="1" height="1" fill="#1010ff"/><rect x="206" y="27" width="1" height="1" fill="#1010ff"/><rect x="207" y="25" width="1" height="1" fill="#1010ff"/><rect x="207" y="26" width="1" height="1" fill="#1010ff"/><rect x="208" y="26" width="1" height="1" fill="#1010ff"/><rect x="209" y="27" width="1" height="1" fill="#1010ff"/><rect x="210" y="28" width="1" height="1" fill="#1010ff"/><rect x="211" y="27" width="1" height="1" fill="#1010ff"/><rect x="212" y="26" width="1" height="1" fill="#1010ff"/><rect x="213" y="26" width="1" height="1" fill="#1010ff"/>
  </g>
  <text x="218" y="32" fill="#000" textLength="92.4" lengthAdjust="spacingAndGlyphs">MA1(50,0,200,0)</text>
  <text x="315.3" y="32" fill="#000" textLength="74.5" lengthAdjust="spacingAndGlyphs">MA50:1.3802</text>
  <text x="399" y="32" fill="#1f1fa0" textLength="67.3" lengthAdjust="spacingAndGlyphs">MA0:1.3916</text>
  <text x="475" y="32" fill="#ff1aff" textLength="80.8" lengthAdjust="spacingAndGlyphs">MA200:1.3991</text>
  <text x="564.7" y="32" fill="#ff8c1a" textLength="67.7" lengthAdjust="spacingAndGlyphs">MA0:1.3916</text>
</g>

<!-- high/low labels -->
<text x="279.6" y="668.2" class="s" font-size="12" font-weight="bold" fill="#5f9f57">1.3539</text>
<text x="797.6" y="468.8" class="s" font-size="12" font-weight="bold" fill="#dc4d47">1.3958</text>

<!-- MACD legend -->
<g><rect x="25" y="703" width="4" height="1" fill="#000"/><rect x="24" y="704" width="1" height="1" fill="#000"/><rect x="29" y="704" width="1" height="1" fill="#000"/><rect x="23" y="705" width="1" height="4" fill="#000"/><rect x="30" y="705" width="1" height="4" fill="#000"/><rect x="24" y="709" width="1" height="1" fill="#000"/><rect x="29" y="709" width="1" height="1" fill="#000"/><rect x="25" y="710" width="4" height="1" fill="#000"/><rect x="26" y="705" width="2" height="1" fill="#ff0000"/><rect x="25" y="706" width="4" height="2" fill="#ff0000"/><rect x="26" y="708" width="2" height="1" fill="#ff0000"/><rect x="26" y="700" width="1" height="2" fill="#ff0000"/><rect x="26" y="712" width="1" height="2" fill="#ff0000"/><rect x="20" y="706" width="2" height="1" fill="#ff0000"/><rect x="32" y="706" width="2" height="1" fill="#ff0000"/><rect x="21" y="701" width="1" height="1" fill="#ff0000"/><rect x="22" y="702" width="1" height="1" fill="#ff0000"/><rect x="32" y="701" width="1" height="1" fill="#ff0000"/><rect x="31" y="702" width="1" height="1" fill="#ff0000"/><rect x="21" y="712" width="1" height="1" fill="#ff0000"/><rect x="22" y="711" width="1" height="1" fill="#ff0000"/><rect x="31" y="711" width="1" height="1" fill="#ff0000"/><rect x="32" y="712" width="1" height="1" fill="#ff0000"/></g>
<g class="cj" font-size="12.4">
  <text x="89.8" y="714" fill="#000" textLength="79.4" lengthAdjust="spacingAndGlyphs">MACD(13,8,9)</text>
  <text x="174" y="714" fill="#000" textLength="64.1" lengthAdjust="spacingAndGlyphs">DIFF:0.0021</text>
  <text x="247.4" y="714" fill="#1f1fa0" textLength="65.0" lengthAdjust="spacingAndGlyphs">DEA:0.0012</text>
  <text x="321.8" y="714" fill="#ff1aff" textLength="76.7" lengthAdjust="spacingAndGlyphs">MACD:0.0017</text>
</g>

<!-- date axis labels -->
<g class="s" font-size="12.4" font-weight="bold" fill="#2a2f3a">
  <text x="206.4" y="932">2025/06</text>
  <text x="353.4" y="932">2025/07</text>
  <text x="514.4" y="932">2025/08</text>
  <text x="661.3" y="932">2025/09</text>
</g>

<!-- watermark -->
<g style="font-family:'Liberation Sans',sans-serif" font-size="32" letter-spacing="0.9">
  <text x="807.8" y="939.3" fill="#b9a48f">FX678</text>
  <text x="806.8" y="938.3" fill="#dde9f6">FX678</text>
</g>

<!-- 日线 box -->
<rect x="17.5" y="919.5" width="70" height="19" fill="#fff" stroke="#cbd3dd" stroke-width="1"/>
<rect x="18" y="920" width="1" height="18" fill="#e3e9ef"/>
<text x="31.5" y="934.2" class="cj" font-size="13" font-weight="bold" fill="#ff6a00">日线</text>
<path d="M62.6 933.8 L66.8 926 L71 933.8 Z" fill="#ff7a00"/>

<!-- bottom tabs -->
<rect x="17" y="939" width="919" height="1" fill="#cfd6df"/>
<rect x="0" y="955" width="936" height="1" fill="#cbd3dc"/>
<rect x="582" y="954" width="354" height="1" fill="#cbd3dc"/>
<rect x="17" y="938" width="71" height="1" fill="#dbe6f1"/>
<rect x="18" y="939" width="39" height="15" fill="#ff6a00"/>
<rect x="17" y="938" width="1" height="17" fill="#dbe6f1"/>
<g fill="#cfd6df">
  <rect x="57" y="940" width="1" height="15"/>
  <rect x="97" y="940" width="1" height="15"/>
  <rect x="155" y="940" width="1" height="15"/>
  <rect x="183" y="940" width="1" height="15"/>
  <rect x="223" y="940" width="1" height="15"/>
  <rect x="263" y="940" width="1" height="15"/>
  <rect x="297" y="940" width="1" height="15"/>
  <rect x="337" y="940" width="1" height="15"/>
  <rect x="371" y="940" width="1" height="15"/>
  <rect x="405" y="940" width="1" height="15"/>
  <rect x="445" y="940" width="1" height="15"/>
  <rect x="480" y="940" width="1" height="15"/>
  <rect x="507" y="940" width="1" height="15"/>
  <rect x="541" y="940" width="1" height="15"/>
  <rect x="581" y="940" width="1" height="15"/>
</g>
<g class="cj" font-size="12" text-anchor="middle" fill="#1d222b">
  <text x="37.5" y="951.5" fill="#fff">指标</text>
  <text x="77" y="951.5">模板</text>
  <text x="126" y="951.5" fill="#ff7a10"><tspan class="mono" style="font-family:'Liberation Mono',monospace" font-size="12" letter-spacing="-1.2">VIP</tspan>指标</text>
</g>
<g class="mono" font-size="12" text-anchor="middle" fill="#1d222b" style="font-family:'Liberation Mono',monospace" letter-spacing="-1.2">
  <text x="169.5" y="951">MA</text>
  <text x="203.5" y="951">MACD</text>
  <text x="243.5" y="951">BOLL</text>
  <text x="280.5" y="951">VOL</text>
  <text x="317.5" y="951">BIAS</text>
  <text x="354.5" y="951">CCI</text>
  <text x="388.5" y="951">KDJ</text>
  <text x="422.5" y="951">LW&amp;</text>
  <text x="463" y="951">RSI</text>
  <text x="494" y="951">CR</text>
  <text x="524.5" y="951">PSY</text>
</g>
<text x="561.5" y="951.5" class="cj" font-size="12" text-anchor="middle" fill="#1d222b">设置</text>

<!-- bottom scrollbar -->
<rect x="740" y="956" width="180" height="7" fill="#b5b4ba"/>
<path d="M818 963 L830.2 956.8 L842.4 963 Z" fill="#5e5e62"/>
</svg>
</body></html>
